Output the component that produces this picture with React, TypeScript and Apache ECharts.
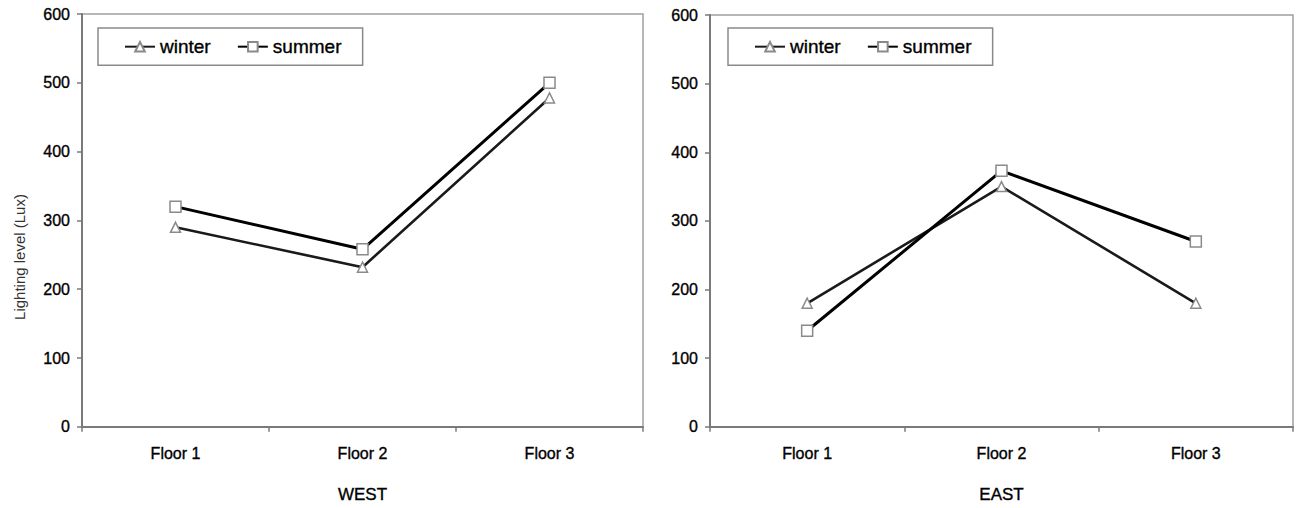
import React, { useEffect, useRef } from "react";
import * as echarts from "echarts";

const categories = ["Floor 1", "Floor 2", "Floor 3"];
const westWinter = [290, 232, 478];
const westSummer = [320, 258, 500];
const eastWinter = [180, 350, 180];
const eastSummer = [140, 373, 270];
const panelTitles = ["WEST", "EAST"];
const yTitle = "Lighting level (Lux)";

const FONT = "Liberation Sans, Arial, sans-serif";

export default function App() {
  const ref = useRef<HTMLDivElement>(null);
  useEffect(() => {
    document.body.style.margin = "0";
    const chart = echarts.init(ref.current!, undefined, { renderer: "svg" });
    const txt = (size: number) => ({
      fontFamily: FONT,
      fontSize: size,
      color: "#000",
      textBorderColor: "#000",
      textBorderWidth: 0.35,
    });
    const xAxisBase = (gridIndex: number, name: string) => ({
      type: "category",
      gridIndex,
      data: categories,
      boundaryGap: true,
      name,
      nameLocation: "middle",
      nameGap: 59,
      nameTextStyle: txt(17),
      axisLine: { lineStyle: { color: "#7a7a7a", width: 2 } },
      axisTick: { show: true, length: 5, lineStyle: { color: "#7a7a7a", width: 1.5 } },
      axisLabel: { ...txt(16), margin: 19 },
      splitLine: { show: false },
    });
    const yAxisBase = (gridIndex: number) => ({
      type: "value",
      gridIndex,
      min: 0,
      max: 600,
      interval: 100,
      axisLine: { show: true, lineStyle: { color: "#7a7a7a", width: 2 } },
      axisTick: { show: true, length: 5, lineStyle: { color: "#7a7a7a", width: 1.5 } },
      axisLabel: { ...txt(16), margin: 12 },
      splitLine: { show: false },
    });
    const mk = (name: string, data: number[], idx: number, symbol: string) => ({
      type: "line",
      name,
      xAxisIndex: idx,
      yAxisIndex: idx,
      data,
      symbol,
      symbolSize: symbol === "triangle" ? 10 : 11,
      showSymbol: true,
      lineStyle: { color: name === "summer" ? "#000" : "#1a1a1a", width: name === "summer" ? 3 : 2.6 },
      itemStyle: { color: "#fff", borderColor: "#8a8a8a", borderWidth: 1.5 },
      z: name === "summer" ? 3 : 2,
    });
    const legendBase = (left: number) => ({
      left,
      top: 28,
      orient: "horizontal",
      data: ["winter", "summer"],
      itemWidth: 30,
      itemHeight: 12,
      itemGap: 26,
      padding: [9, 21, 9, 26],
      borderColor: "#8a8a8a",
      borderWidth: 1.5,
      textStyle: txt(19),
      selectedMode: false,
    });
    chart.setOption({
      animation: false,
      backgroundColor: "#fff",
      grid: [
        { left: 82, top: 14, width: 561, height: 421, show: true, borderColor: "#a0a0a0", borderWidth: 1.5 },
        { left: 710, top: 15, width: 583, height: 418, show: true, borderColor: "#a0a0a0", borderWidth: 1.5 },
      ],
      xAxis: [xAxisBase(0, panelTitles[0]), xAxisBase(1, panelTitles[1])],
      yAxis: [yAxisBase(0), yAxisBase(1)],
      legend: [legendBase(98), legendBase(728)],
      graphic: [
        {
          type: "text",
          x: 19,
          y: 257,
          rotation: Math.PI / 2,
          style: {
            text: yTitle,
            fontFamily: FONT,
            fontSize: 15,
            fill: "#333",
            align: "center",
            verticalAlign: "middle",
          },
        },
      ],
      series: [
        mk("winter", westWinter, 0, "triangle"),
        mk("summer", westSummer, 0, "rect"),
        mk("winter", eastWinter, 1, "triangle"),
        mk("summer", eastSummer, 1, "rect"),
      ],
    });
    return () => chart.dispose();
  }, []);
  return <div ref={ref} style={{ width: 1299, height: 508 }} />;
}
